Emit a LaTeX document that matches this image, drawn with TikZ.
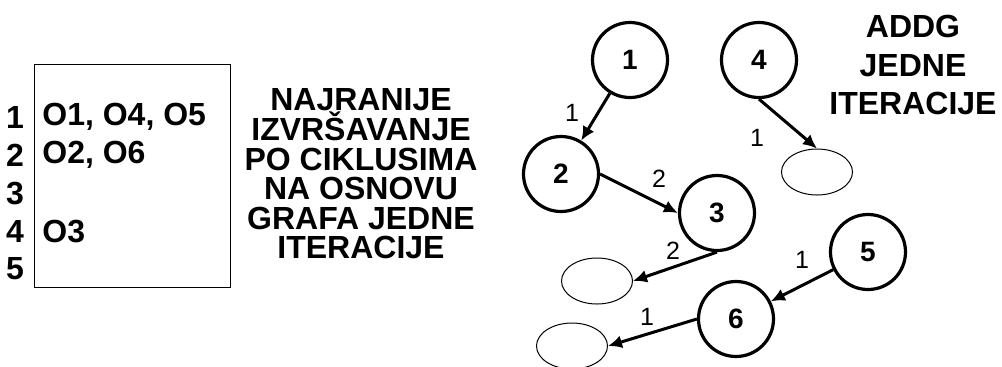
\documentclass[tikz,border=0pt]{standalone}
\usepackage{fontspec}
\setmainfont{Liberation Sans}
\usepackage{tikz}
\usetikzlibrary{arrows.meta}
\usetikzlibrary{shapes.geometric}
\tikzset{>={Latex[length=7pt,width=6.5pt]}}
\newcommand{\bigfont}{\fontsize{16}{19}\selectfont\bfseries}
\tikzset{
	op/.style={circle, draw, line width=1.6pt, minimum size=37.5pt, inner sep=0pt, font=\fontsize{14}{16}\selectfont\bfseries},
	sink/.style={ellipse, draw, line width=0.5pt, minimum width=35.5pt, minimum height=23pt, inner sep=0pt},
	dep/.style={->, line width=1.5pt},
	wlabel/.style={inner sep=0pt, font=\fontsize{12.5}{15}\selectfont},
	row/.style={inner sep=0pt, font=\bigfont},
}

\begin{document}
\begin{tikzpicture}[x=0.5pt, y=-0.5pt]
				\useasboundingbox (0,0) rectangle (1002,366);
				
				% raspored po ciklusima
				\draw[line width=0.5pt] (34,64) rectangle (230,287);
				\node[row] (n1) at (15,117) {1};
				\node[row] (n2) at (15,155) {2};
				\node[row] (n3) at (15,193) {3};
				\node[row] (n4) at (15,231) {4};
				\node[row] (n5) at (15,269) {5};
				\node[row, anchor=west] (t1) at (42,117) {O1, O4, O5};
				\node[row, anchor=west] (t2) at (42,155) {O2, O6};
				\node[row, anchor=west] (t4) at (42,231) {O3};
				
				\node[align=center, font={\fontsize{16}{14.8}\selectfont\bfseries\lineskiplimit=-20pt}] (naslov) at (361,174) {NAJRANIJE\\IZVRŠAVANJE\\PO CIKLUSIMA\\NA OSNOVU\\GRAFA JEDNE\\ITERACIJE};
				\node[align=center, font={\fontsize{16}{19.25}\selectfont\bfseries}] (addg) at (913,65) {ADDG\\JEDNE\\ITERACIJE};
				
				% graf
				\node[op] (c1) at (630,60) {1};
				\node[op] (c4) at (759,60) {4};
				\node[op] (c2) at (561,174) {2};
				\node[op] (c3) at (717,213) {3};
				\node[op] (c5) at (868,252) {5};
				\node[op] (c6) at (736,319) {6};
				\node[sink] (e4) at (817,172) {};
				\node[sink] (e3) at (597,281) {};
				\node[sink] (e6) at (572,346) {};
				
				\draw[dep] (c1) -- (c2);
				\draw[dep] (c4.south) -- (e4.north);
				\draw[dep] (c2.east) -- (c3.west);
				\draw[dep] (c3.south) -- (e3.east);
				\draw[dep] (c5) -- (c6);
				\draw[dep] (c6.west) -- (e6.east);
				
				\node[wlabel] (w12) at (572,113) {1};
				\node[wlabel] (w4) at (757,138) {1};
				\node[wlabel] (w23) at (659,179) {2};
				\node[wlabel] (w3) at (673,251) {2};
				\node[wlabel] (w56) at (802,260) {1};
				\node[wlabel] (w6) at (647,317) {1};
			
			\end{tikzpicture}
\end{document}
